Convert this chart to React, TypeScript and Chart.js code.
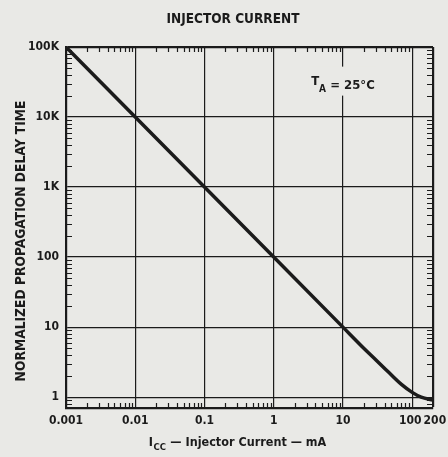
import React, { useEffect, useRef } from "react";
import { Chart, registerables } from "chart.js";
Chart.register(...registerables);

const currentMA = [0.001, 0.01, 0.1, 1, 10, 20, 30, 45, 70, 100, 135, 200];
const delayNorm = [100000, 10000, 1000, 100, 10, 5.0, 3.4, 2.3, 1.52, 1.17, 1.0, 0.91];
const xTicks = [0.001, 0.01, 0.1, 1, 10, 100, 200];
const xTickLabels = ["0.001", "0.01", "0.1", "1", "10", "100 ", " 200"];
const yTicks = [1, 10, 100, 1000, 10000, 100000];
const yTickLabels = ["1", "10", "100", "1K", "10K", "100K"];
const xMin = 0.001, xMax = 200, yMin = 0.7, yMax = 100000;

const FONT = '"DejaVu Sans Condensed", "Liberation Sans", sans-serif';
const INK = "#1b1b1b";
const BG = "#e9e9e6";

const decorPlugin = {
  id: "decor",
  beforeDraw(chart: any) {
    const c = chart.ctx;
    c.save();
    c.fillStyle = BG;
    c.fillRect(0, 0, chart.width, chart.height);
    c.restore();
  },
  beforeDatasetsDraw(chart: any) {
    const c = chart.ctx;
    const a = chart.chartArea;
    const xs = chart.scales.x, ys = chart.scales.y;
    c.save();
    c.strokeStyle = INK;
    c.lineWidth = 1.2;
    c.beginPath();
    for (let d = -3; d <= 2; d++) {
      for (let m = 2; m <= 9; m++) {
        const v = m * Math.pow(10, d);
        if (v <= xMin || v >= xMax) continue;
        const px = Math.round(xs.getPixelForValue(v)) + 0.5;
        c.moveTo(px, a.bottom); c.lineTo(px, a.bottom - 5);
        c.moveTo(px, a.top); c.lineTo(px, a.top + 5);
      }
    }
    for (let d = -1; d <= 4; d++) {
      for (let m = 2; m <= 9; m++) {
        const v = m * Math.pow(10, d);
        if (v <= yMin || v >= yMax) continue;
        const py = Math.round(ys.getPixelForValue(v)) + 0.5;
        c.moveTo(a.left, py); c.lineTo(a.left + 6, py);
        c.moveTo(a.right, py); c.lineTo(a.right - 6, py);
      }
    }
    c.stroke();

    // annotation T_A = 25°C
    const ax = xs.getPixelForValue(10);
    const ay = ys.getPixelForValue(30000);
    c.fillStyle = BG;
    c.fillRect(ax - 34, ay - 17, 68, 29);
    c.fillStyle = INK;
    c.textBaseline = "alphabetic";
    c.textAlign = "left";
    const big = `bold 13px ${FONT}`;
    const small = `bold 10px ${FONT}`;
    c.font = big; const wT = c.measureText("T").width;
    c.font = small; const wA = c.measureText("A").width;
    c.font = big; const wR = c.measureText(" = 25°C").width;
    let x0 = ax - (wT + wA + wR) / 2;
    c.font = big; c.fillText("T", x0, ay + 1);
    c.font = small; c.fillText("A", x0 + wT, ay + 8);
    c.font = big; c.fillText(" = 25°C", x0 + wT + wA, ay + 5);
    c.restore();
  },
  afterDraw(chart: any) {
    const c = chart.ctx;
    c.save();
    c.fillStyle = INK;
    // chart title
    c.font = `bold 13.5px ${FONT}`;
    c.textAlign = "center";
    c.textBaseline = "middle";
    c.fillText("INJECTOR CURRENT", 233, 19);
    // y axis title
    c.save();
    c.translate(21, 241);
    c.rotate(-Math.PI / 2);
    c.font = `bold 13.7px ${FONT}`;
    c.fillText("NORMALIZED PROPAGATION DELAY TIME", 0, 0);
    c.restore();
    // x axis title with subscript
    const big = `bold 12.5px ${FONT}`;
    const small = `bold 9.5px ${FONT}`;
    c.textAlign = "left";
    c.textBaseline = "alphabetic";
    c.font = big; const wI = c.measureText("I").width;
    c.font = small; const wC = c.measureText("CC").width;
    c.font = big; const wR = c.measureText(" — Injector Current — mA").width;
    const cx = 237;
    const base = 446;
    let x0 = cx - (wI + wC + wR) / 2;
    c.font = big; c.fillText("I", x0, base);
    c.font = small; c.fillText("CC", x0 + wI + 0.5, base + 4);
    c.font = big; c.fillText(" — Injector Current — mA", x0 + wI + wC + 1, base);
    c.restore();
  },
};

export default function App() {
  const ref = useRef<HTMLCanvasElement | null>(null);
  useEffect(() => {
    document.body.style.margin = "0";
    const chart = new Chart(ref.current as HTMLCanvasElement, {
      type: "line",
      data: {
        datasets: [
          {
            data: currentMA.map((x, i) => ({ x, y: delayNorm[i] })),
            borderColor: INK,
            borderWidth: 3.5,
            pointRadius: 0,
            cubicInterpolationMode: "monotone",
            fill: false,
          },
        ],
      },
      options: {
        animation: false,
        responsive: false,
        devicePixelRatio: 1,
        layout: { padding: { left: 0, right: 15, top: 47, bottom: 0 } },
        plugins: { legend: { display: false }, tooltip: { enabled: false }, title: { display: false } },
        scales: {
          x: {
            type: "logarithmic",
            min: xMin,
            max: xMax,
            afterBuildTicks: (s: any) => { s.ticks = xTicks.map((v) => ({ value: v })); },
            afterFit: (s: any) => { s.height = 49; s.paddingLeft = 0; s.paddingRight = 0; },
            ticks: {
              autoSkip: false,
              maxRotation: 0,
              padding: 6,
              color: INK,
              font: { family: FONT, size: 12, weight: "bold" },
              callback: (v: any) => { const i = xTicks.indexOf(Number(v)); return i >= 0 ? xTickLabels[i] : ""; },
            },
            grid: {
              color: INK,
              lineWidth: (ctx: any) => (ctx.tick && ctx.tick.value === xMax ? 2.2 : 1.2),
              drawTicks: false,
            },
            border: { color: INK, width: 2.2 },
          },
          y: {
            type: "logarithmic",
            min: yMin,
            max: yMax,
            afterBuildTicks: (s: any) => { s.ticks = yTicks.map((v) => ({ value: v })); },
            afterFit: (s: any) => { s.width = 66; s.paddingTop = 0; s.paddingBottom = 0; },
            ticks: {
              autoSkip: false,
              padding: 7,
              color: INK,
              font: { family: FONT, size: 12, weight: "bold" },
              callback: (v: any) => { const i = yTicks.indexOf(Number(v)); return i >= 0 ? yTickLabels[i] : ""; },
            },
            grid: {
              color: INK,
              lineWidth: (ctx: any) => (ctx.tick && ctx.tick.value === yMax ? 2.2 : 1.2),
              drawTicks: false,
            },
            border: { color: INK, width: 2.2 },
          },
        },
      } as any,
      plugins: [decorPlugin],
    });
    return () => chart.destroy();
  }, []);
  return (
    <div style={{ width: 448, height: 457 }}>
      <canvas ref={ref} width={448} height={457} style={{ display: "block" }} />
    </div>
  );
}
